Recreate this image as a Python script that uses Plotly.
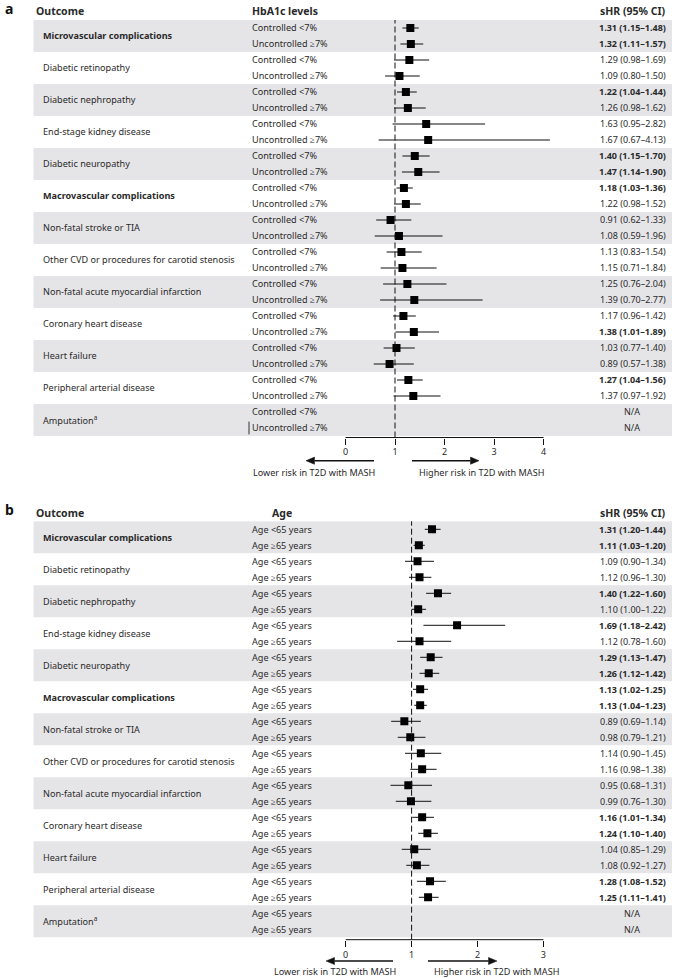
import plotly.graph_objects as go

W, H = 685, 978

# ---------------- data ----------------
outcomes = [
    "Microvascular complications", "Diabetic retinopathy", "Diabetic nephropathy",
    "End-stage kidney disease", "Diabetic neuropathy", "Macrovascular complications",
    "Non-fatal stroke or TIA", "Other CVD or procedures for carotid stenosis",
    "Non-fatal acute myocardial infarction", "Coronary heart disease",
    "Heart failure", "Peripheral arterial disease", "Amputation<sup>a</sup>",
]
outcome_bold = [True, False, False, False, False, True, False, False, False, False, False, False, False]

a_groups = ["Controlled <7%", "Uncontrolled ≥7%"]
a_hr = [1.31, 1.32, 1.29, 1.09, 1.22, 1.26, 1.63, 1.67, 1.40, 1.47, 1.18, 1.22, 0.91, 1.08,
        1.13, 1.15, 1.25, 1.39, 1.17, 1.38, 1.03, 0.89, 1.27, 1.37, None, None]
a_lo = [1.15, 1.11, 0.98, 0.80, 1.04, 0.98, 0.95, 0.67, 1.15, 1.14, 1.03, 0.98, 0.62, 0.59,
        0.83, 0.71, 0.76, 0.70, 0.96, 1.01, 0.77, 0.57, 1.04, 0.97, None, None]
a_hi = [1.48, 1.57, 1.69, 1.50, 1.44, 1.62, 2.82, 4.13, 1.70, 1.90, 1.36, 1.52, 1.33, 1.96,
        1.54, 1.84, 2.04, 2.77, 1.42, 1.89, 1.40, 1.38, 1.56, 1.92, None, None]
a_sig = [1, 1, 0, 0, 1, 0, 0, 0, 1, 1, 1, 0, 0, 0, 0, 0, 0, 0, 0, 1, 0, 0, 1, 0, 0, 0]
a_ticks = [0, 1, 2, 3, 4]

b_groups = ["Age <65 years", "Age ≥65 years"]
b_hr = [1.31, 1.11, 1.09, 1.12, 1.40, 1.10, 1.69, 1.12, 1.29, 1.26, 1.13, 1.13, 0.89, 0.98,
        1.14, 1.16, 0.95, 0.99, 1.16, 1.24, 1.04, 1.08, 1.28, 1.25, None, None]
b_lo = [1.20, 1.03, 0.90, 0.96, 1.22, 1.00, 1.18, 0.78, 1.13, 1.12, 1.02, 1.04, 0.69, 0.79,
        0.90, 0.98, 0.68, 0.76, 1.01, 1.10, 0.85, 0.92, 1.08, 1.11, None, None]
b_hi = [1.44, 1.20, 1.34, 1.30, 1.60, 1.22, 2.42, 1.60, 1.47, 1.42, 1.25, 1.23, 1.14, 1.21,
        1.45, 1.38, 1.31, 1.30, 1.34, 1.40, 1.29, 1.27, 1.52, 1.41, None, None]
b_sig = [1, 1, 0, 0, 1, 0, 1, 0, 1, 1, 1, 1, 0, 0, 0, 0, 0, 0, 1, 1, 0, 0, 1, 1, 0, 0]
b_ticks = [0, 1, 2, 3]

ref_value = 1
lower_label = "Lower risk in T2D with MASH"
higher_label = "Higher risk in T2D with MASH"

# ---------------- styling ----------------
FONT = "Noto Sans"
TXT = "#2a2a2a"
BAND = "#e5e5e8"
FS = 9.1
FS_CI = 9.0
FS_HEAD = 10.5


def PX(x):
    return x / W


def PY(y):
    return 1 - y / H


fig = go.Figure()
annotations = []
shapes = []


def arrow(tail, head, y):
    """Horizontal arrow drawn with shapes (pixel positions -> paper)."""
    d = 1 if head > tail else -1
    hl, hw = 8.5, 3.6
    base = head - d * hl
    shapes.append(dict(type="line", xref="paper", yref="paper", x0=PX(tail), x1=PX(base),
                       y0=PY(y), y1=PY(y), line=dict(color="#111", width=1.5)))
    path = (f"M {PX(head)} {PY(y)} L {PX(base)} {PY(y - hw)} "
            f"L {PX(base)} {PY(y + hw)} Z")
    shapes.append(dict(type="path", xref="paper", yref="paper", path=path,
                       fillcolor="#111", line=dict(color="#111", width=0.5)))


def panel(key, letter, col_header, col_header_x, col_header_anchor, groups, hr, lo, hi, sig,
          ticks, top, row_h, axis_px, zero_px, unit_px, arrows):
    xa = "x" if key == 1 else f"x{key}"
    ya = "y" if key == 1 else f"y{key}"
    n = len(outcomes) * len(groups)
    first_row = top + row_h / 2
    bottom_row = (axis_px - first_row) / row_h
    fig.layout[("xaxis" if key == 1 else f"xaxis{key}")] = dict(
        domain=[0, 1], anchor=ya,
        range=[(0 - zero_px) / unit_px, (W - zero_px) / unit_px],
        tickvals=ticks, ticktext=[str(t) for t in ticks],
        ticks="outside", ticklen=6, tickwidth=1, tickcolor="#111",
        showline=False, showgrid=False, zeroline=False,
        tickfont=dict(family=FONT, size=9, color=TXT),
    )
    fig.layout[("yaxis" if key == 1 else f"yaxis{key}")] = dict(
        domain=[PY(axis_px), PY(top)], anchor=xa,
        range=[bottom_row, -0.5], visible=False, showgrid=False, zeroline=False,
    )
    yref = ya
    for g in range(len(outcomes)):
        if g % 2 == 0:
            shapes.append(dict(type="rect", xref="paper", yref=yref,
                               x0=PX(33.5), x1=PX(672), y0=2 * g - 0.5, y1=2 * g + 1.5,
                               fillcolor=BAND, line=dict(width=0), layer="below"))
    shapes.append(dict(type="line", xref=xa, yref=f"{ya} domain", x0=ref_value, x1=ref_value,
                       y0=0, y1=1, line=dict(color="#111", width=1, dash="6px,3px")))
    shapes.append(dict(type="line", xref=xa, yref=f"{ya} domain", x0=min(ticks), x1=max(ticks),
                       y0=0, y1=0, line=dict(color="#111", width=1)))
    rows = [i for i in range(n) if hr[i] is not None]
    fig.add_trace(go.Scatter(
        x=[hr[i] for i in rows], y=rows, xaxis=xa, yaxis=ya, mode="markers",
        marker=dict(symbol="square", size=8, color="#000"),
        error_x=dict(type="data", symmetric=False,
                     array=[hi[i] - hr[i] for i in rows],
                     arrayminus=[hr[i] - lo[i] for i in rows],
                     thickness=1, width=0, color="#111"),
        showlegend=False, hoverinfo="skip",
    ))
    hy = PY(top - 8.5)
    annotations.append(dict(text=f"<b>{letter}</b>", xref="paper", yref="paper", x=PX(3), y=PY(top - 12),
                            xanchor="left", yanchor="middle", showarrow=False,
                            font=dict(family=FONT, size=14, color="#111")))
    annotations.append(dict(text="<b>Outcome</b>", xref="paper", yref="paper", x=PX(34), y=hy,
                            xanchor="left", yanchor="middle", showarrow=False,
                            font=dict(family=FONT, size=FS_HEAD, color=TXT)))
    annotations.append(dict(text=f"<b>{col_header}</b>", xref="paper", yref="paper", x=PX(col_header_x), y=hy,
                            xanchor=col_header_anchor, yanchor="middle", showarrow=False,
                            font=dict(family=FONT, size=FS_HEAD, color=TXT)))
    annotations.append(dict(text="<b>sHR (95% CI)</b>", xref="paper", yref="paper", x=PX(668), y=hy,
                            xanchor="right", yanchor="middle", showarrow=False,
                            font=dict(family=FONT, size=FS_HEAD, color=TXT)))
    for g, name in enumerate(outcomes):
        t = f"<b>{name}</b>" if outcome_bold[g] else name
        annotations.append(dict(text=t, xref="paper", yref=yref, x=PX(41), y=2 * g + 0.5,
                                xanchor="left", yanchor="middle", showarrow=False,
                                font=dict(family=FONT, size=FS, color=TXT)))
    for i in range(n):
        annotations.append(dict(text=groups[i % len(groups)], xref="paper", yref=yref, x=PX(250), y=i,
                                xanchor="left", yanchor="middle", showarrow=False,
                                font=dict(family=FONT, size=FS, color=TXT)))
        if hr[i] is None:
            annotations.append(dict(text="N/A", xref="paper", yref=yref, x=PX(632), y=i,
                                    xanchor="center", yanchor="middle", showarrow=False,
                                    font=dict(family=FONT, size=FS_CI, color=TXT)))
        else:
            s = f"{hr[i]:.2f} ({lo[i]:.2f}–{hi[i]:.2f})"
            if sig[i]:
                s = f"<b>{s}</b>"
            annotations.append(dict(text=s, xref="paper", yref=yref, x=PX(668), y=i,
                                    xanchor="right", yanchor="middle", showarrow=False,
                                    font=dict(family=FONT, size=FS_CI, color=TXT)))
    (lh, lt, rt, rh, ay, ty, lend, rstart) = arrows
    arrow(lt, lh, ay)
    arrow(rt, rh, ay)
    annotations.append(dict(text=lower_label, xref="paper", yref="paper", x=PX(lend), y=PY(ty),
                            xanchor="right", yanchor="middle", showarrow=False,
                            font=dict(family=FONT, size=FS, color=TXT)))
    annotations.append(dict(text=higher_label, xref="paper", yref="paper", x=PX(rstart), y=PY(ty),
                            xanchor="left", yanchor="middle", showarrow=False,
                            font=dict(family=FONT, size=FS, color=TXT)))
    return yref


ya_ref = panel(1, "a", "HbA1c levels", 250, "left", a_groups, a_hr, a_lo, a_hi, a_sig, a_ticks,
               top=20, row_h=16, axis_px=437.5, zero_px=345.5, unit_px=49.5,
               arrows=(306, 374, 412, 479, 460.7, 472, 377, 417))
panel(2, "b", "Age", 281.5, "center", b_groups, b_hr, b_lo, b_hi, b_sig, b_ticks,
      top=521.3, row_h=16, axis_px=939.7, zero_px=345.7, unit_px=65.9,
      arrows=(326, 393, 428, 497, 961, 971.5, 398, 432))

# small stray vertical stroke in front of the last label of panel a
shapes.append(dict(type="line", xref="paper", yref=ya_ref, x0=PX(249), x1=PX(249),
                   y0=24.6, y1=25.4, line=dict(color="#333", width=1)))

fig.update_layout(
    width=W, height=H, margin=dict(l=0, r=0, t=0, b=0),
    paper_bgcolor="white", plot_bgcolor="rgba(0,0,0,0)",
    shapes=shapes, annotations=annotations, showlegend=False,
    font=dict(family=FONT, color=TXT),
)

fig.write_html("out.html", config={"displayModeBar": False},
               post_script="document.body.style.margin='0';")
